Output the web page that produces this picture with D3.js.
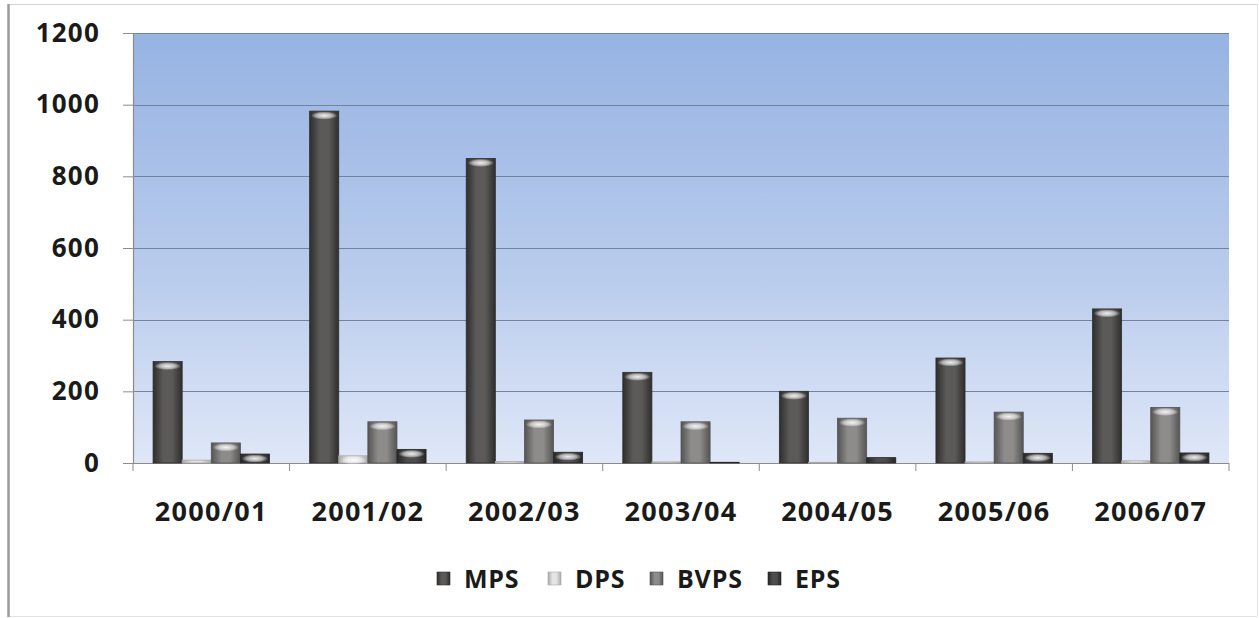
<!DOCTYPE html>
<html>
<head>
<meta charset="utf-8">
<script src="https://cdn.jsdelivr.net/npm/d3@7"></script>
<style>
  html, body { margin: 0; padding: 0; background: #ffffff; }
  svg { display: block; }
  text { font-family: "Open Sans", "Liberation Sans", sans-serif; font-weight: 700; fill: #1a1a1a; }
</style>
</head>
<body>
<svg id="chart" width="1259" height="618"></svg>
<script>
// Per-share figures by fiscal year
const years = ["2000/01", "2001/02", "2002/03", "2003/04", "2004/05", "2005/06", "2006/07"];
const seriesNames = ["MPS", "DPS", "BVPS", "EPS"];
const mps  = [283, 982, 850, 253, 200, 293, 430];
const dps  = [8, 20, 4, 3, 2, 3, 6];
const bvps = [56, 115, 120, 115, 125, 142, 155];
const eps  = [25, 38, 30, 2, 15, 27, 28];
const yTicks = [0, 200, 400, 600, 800, 1000, 1200];

const seriesValues = { MPS: mps, DPS: dps, BVPS: bvps, EPS: eps };
const seriesTone = {
  MPS:  { edge: "#2e2e2e", mid: "#5c5a58" },
  DPS:  { edge: "#a8a8a8", mid: "#e4e4e4" },
  BVPS: { edge: "#545454", mid: "#8e8c8a" },
  EPS:  { edge: "#262626", mid: "#4e4e4e" }
};

const svg = d3.select("#chart");
const plot = { left: 133, right: 1229, top: 33, bottom: 463 };

// Outer frame of the chart
svg.append("line").attr("x1", 8).attr("x2", 1257).attr("y1", 4.5).attr("y2", 4.5)
  .attr("stroke", "#d4d4d4").attr("stroke-width", 1);
svg.append("line").attr("x1", 1257.5).attr("x2", 1257.5).attr("y1", 4).attr("y2", 616)
  .attr("stroke", "#e2e2e2").attr("stroke-width", 1);
svg.append("line").attr("x1", 8).attr("x2", 1257).attr("y1", 616.5).attr("y2", 616.5)
  .attr("stroke", "#e2e2e2").attr("stroke-width", 1);
svg.append("line").attr("x1", 8.5).attr("x2", 8.5).attr("y1", 4).attr("y2", 617)
  .attr("stroke", "#9a9a9a").attr("stroke-width", 2.5);

const defs = svg.append("defs");
const bg = defs.append("linearGradient").attr("id", "plotBg")
  .attr("x1", 0).attr("y1", 0).attr("x2", 0).attr("y2", 1);
bg.append("stop").attr("offset", "0%").attr("stop-color", "#96b3e2");
bg.append("stop").attr("offset", "55%").attr("stop-color", "#b8cbec");
bg.append("stop").attr("offset", "100%").attr("stop-color", "#dfe7f7");

seriesNames.forEach(name => {
  const t = seriesTone[name];
  const g = defs.append("linearGradient").attr("id", "bar-" + name)
    .attr("x1", 0).attr("y1", 0).attr("x2", 1).attr("y2", 0);
  g.append("stop").attr("offset", "0%").attr("stop-color", t.edge);
  g.append("stop").attr("offset", "35%").attr("stop-color", t.mid);
  g.append("stop").attr("offset", "65%").attr("stop-color", t.mid);
  g.append("stop").attr("offset", "100%").attr("stop-color", t.edge);
});
const hl = defs.append("radialGradient").attr("id", "capHighlight");
hl.append("stop").attr("offset", "0%").attr("stop-color", "#ffffff").attr("stop-opacity", 0.9);
hl.append("stop").attr("offset", "60%").attr("stop-color", "#f2f2f2").attr("stop-opacity", 0.6);
hl.append("stop").attr("offset", "100%").attr("stop-color", "#ffffff").attr("stop-opacity", 0);

const x0 = d3.scaleBand().domain(years).range([plot.left, plot.right]).paddingInner(0).paddingOuter(0);
const x1 = d3.scaleBand().domain(seriesNames).range([0, x0.bandwidth()]).paddingInner(0).paddingOuter(0.69);
const y = d3.scaleLinear().domain([0, 1200]).range([plot.bottom, plot.top]);

// Plot background
svg.append("rect").attr("x", plot.left).attr("y", plot.top)
  .attr("width", plot.right - plot.left).attr("height", plot.bottom - plot.top)
  .attr("fill", "url(#plotBg)");

// Gridlines
svg.append("g").selectAll("line").data(yTicks.filter(d => d > 0)).join("line")
  .attr("x1", plot.left).attr("x2", plot.right)
  .attr("y1", d => Math.round(y(d)) + 0.5).attr("y2", d => Math.round(y(d)) + 0.5)
  .attr("stroke", "#7083a0").attr("stroke-width", 1.2);

// Y axis
const yAxis = svg.append("g").attr("transform", `translate(${plot.left},0)`)
  .call(d3.axisLeft(y).tickValues(yTicks).tickSize(10).tickPadding(23).tickFormat(d3.format("d")));
yAxis.select(".domain").attr("stroke", "#8c8c8c").attr("stroke-width", 1.2);
yAxis.selectAll(".tick line").attr("stroke", "#8c8c8c");
yAxis.selectAll(".tick text").attr("font-size", 26).attr("fill", "#1a1a1a")
  .attr("letter-spacing", 1.2)
  .attr("font-family", "'Open Sans', sans-serif").attr("font-weight", 700);

// X axis with ticks between categories
const xAxisG = svg.append("g").attr("transform", `translate(0,${plot.bottom})`);
xAxisG.append("line").attr("x1", plot.left).attr("x2", plot.right).attr("y1", 0.5).attr("y2", 0.5)
  .attr("stroke", "#8c8c8c").attr("stroke-width", 1.2);
const boundaries = years.map(d => x0(d)).concat([plot.right]);
xAxisG.selectAll("line.tk").data(boundaries).join("line").attr("class", "tk")
  .attr("x1", d => d).attr("x2", d => d).attr("y1", 0).attr("y2", 8)
  .attr("stroke", "#8c8c8c");
xAxisG.selectAll("text").data(years).join("text")
  .attr("x", d => x0(d) + x0.bandwidth() / 2).attr("y", 58)
  .attr("text-anchor", "middle").attr("font-size", 27).attr("letter-spacing", 1.3).text(d => d);

// Bars
const groups = svg.append("g").selectAll("g").data(years).join("g")
  .attr("transform", d => `translate(${x0(d)},0)`);
groups.each(function (yr, i) {
  const g = d3.select(this);
  seriesNames.forEach(name => {
    const v = seriesValues[name][i];
    const bx = x1(name), bw = x1.bandwidth();
    const top = y(v), h = y(0) - y(v);
    g.append("rect").attr("x", bx).attr("y", top).attr("width", bw).attr("height", h)
      .attr("fill", `url(#bar-${name})`).attr("stroke", seriesTone[name].edge).attr("stroke-width", 0.8);
    if (h > 6) {
      g.append("ellipse").attr("cx", bx + bw / 2).attr("cy", top + 4.5)
        .attr("rx", bw * 0.46).attr("ry", 4).attr("fill", "url(#capHighlight)");
    }
  });
});

// Legend
const legendItems = [
  { name: "MPS", x: 437 }, { name: "DPS", x: 548 }, { name: "BVPS", x: 650 }, { name: "EPS", x: 768 }
];
const legend = svg.append("g");
legendItems.forEach(it => {
  legend.append("rect").attr("x", it.x).attr("y", 572).attr("width", 13).attr("height", 13)
    .attr("fill", `url(#bar-${it.name})`).attr("stroke", seriesTone[it.name].edge).attr("stroke-width", 0.6);
  legend.append("text").attr("x", it.x + 27).attr("y", 588).attr("font-size", 25)
    .attr("letter-spacing", 0.8).text(it.name);
});
</script>
</body>
</html>
